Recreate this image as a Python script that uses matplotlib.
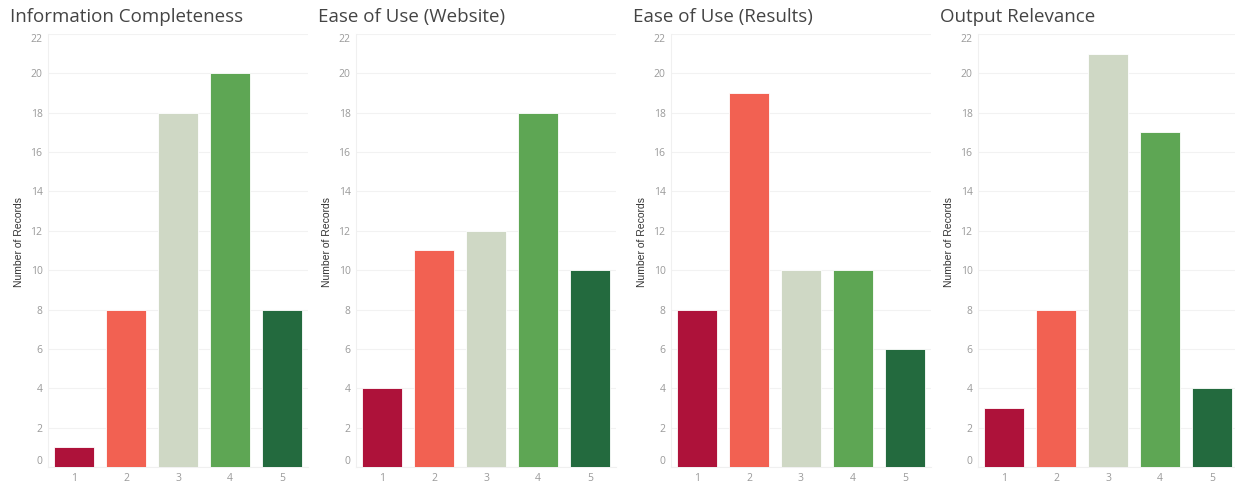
import matplotlib.pyplot as plt
import numpy as np

# survey ratings 1..5, number of records per rating
ratings = [1, 2, 3, 4, 5]
titles = ['Information Completeness', 'Ease of Use (Website)',
          'Ease of Use (Results)', 'Output Relevance']
info_completeness = [1, 8, 18, 20, 8]
ease_website = [4, 11, 12, 18, 10]
ease_results = [8, 19, 10, 10, 6]
output_relevance = [3, 8, 21, 17, 4]
y_ticks = [0, 2, 4, 6, 8, 10, 12, 14, 16, 18, 20, 22]

colors = ['#AE123A', '#F26152', '#CFD8C5', '#5EA654', '#236A3E']
series = [info_completeness, ease_website, ease_results, output_relevance]

W, H = 1235, 486
fig = plt.figure(figsize=(W / 100, H / 100), dpi=100)

lefts = [48, 356, 671, 978]
ax_w = 260
y0, y1 = 467, 34

for left, title, vals in zip(lefts, titles, series):
    ax = fig.add_axes([left / W, (H - y0) / H, ax_w / W, (y0 - y1) / H])
    ax.bar(ratings, vals, width=0.76, color=colors,
           edgecolor='white', linewidth=0.6, zorder=3)
    ax.set_xlim(0.5, 5.5)
    ax.set_ylim(0, 22)
    ax.set_yticks(y_ticks)
    ax.set_xticks(ratings)
    ax.set_xticklabels([str(r) for r in ratings])
    ax.grid(axis='y', color='#f2f2f2', linewidth=0.8, zorder=0)
    for s in ['top', 'right']:
        ax.spines[s].set_visible(False)
    ax.spines['left'].set_color('#f0f0f0')
    ax.spines['bottom'].set_color('#f0f0f0')
    ax.tick_params(axis='both', length=0, colors='#9a9a9a', labelsize=7.5)
    ax.tick_params(axis='y', pad=4)
    ax.tick_params(axis='x', pad=4)
    for lbl in ax.get_yticklabels() + ax.get_xticklabels():
        lbl.set_fontfamily('Open Sans')
    ylabels = ax.get_yticklabels()
    ylabels[0].set_va('bottom')
    ylabels[-1].set_va('top')
    ax.set_ylabel('Number of Records', fontsize=7.5, color='#333333',
                  family='Liberation Sans')
    ax.yaxis.set_label_coords(-24 / ax_w, 0.52)
    fig.text((left - 38) / W, (H - 17) / H, title, fontsize=13.5,
             color='#444444', family='Open Sans', ha='left', va='center')

fig.savefig('out.png', dpi=100)
